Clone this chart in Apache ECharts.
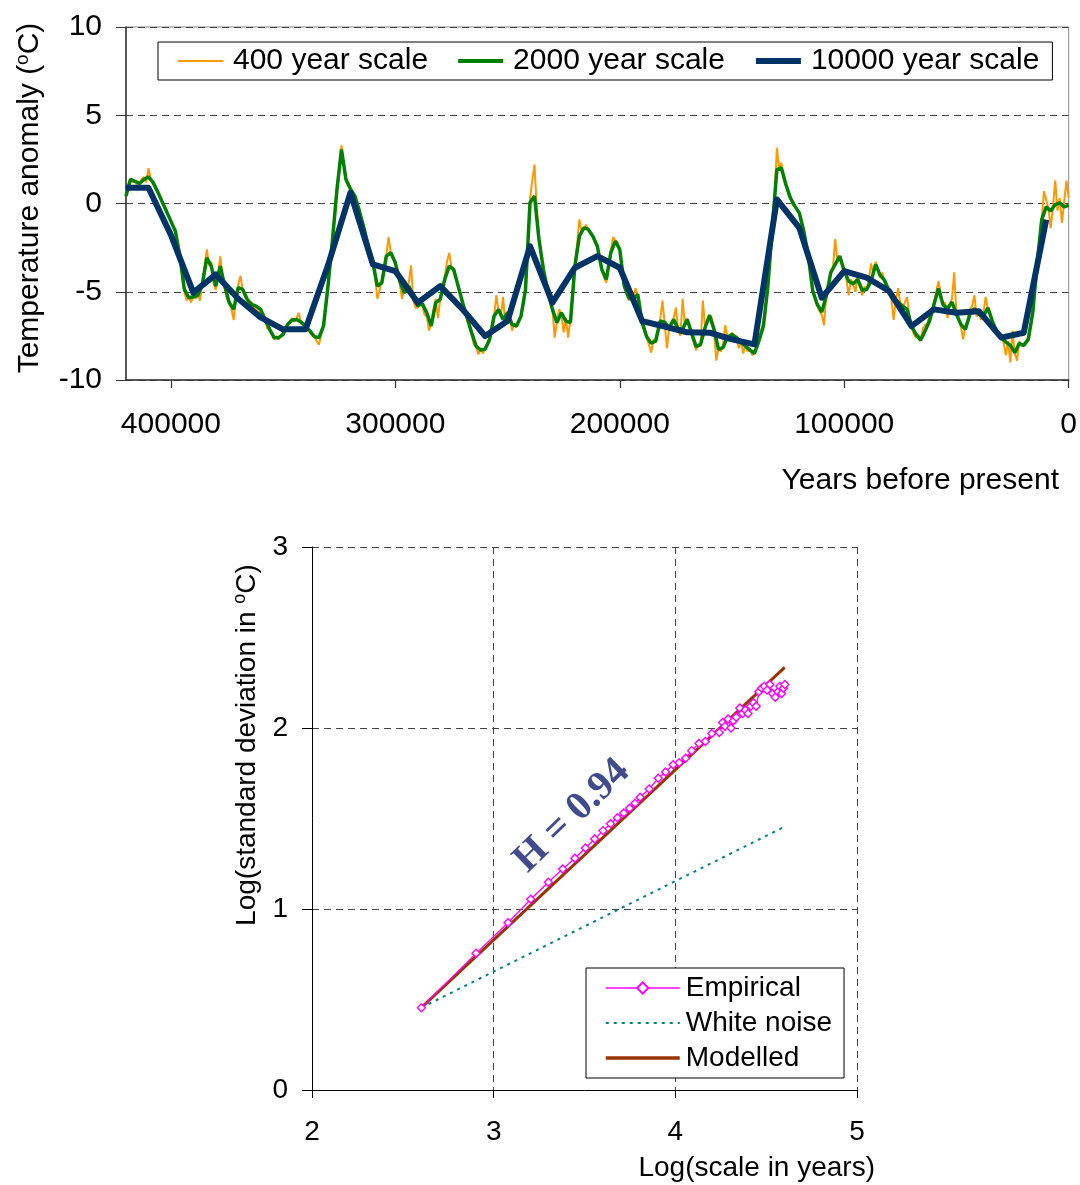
<!DOCTYPE html>
<html>
<head>
<meta charset="utf-8">
<script src="https://cdn.jsdelivr.net/npm/echarts@6/dist/echarts.min.js"></script>
<style>
html, body { margin: 0; padding: 0; background: #fff; }
#chart { width: 1080px; height: 1185px; }
</style>
</head>
<body>
<div id="chart"></div>
<script>
// Temperature anomaly (°C), one value per 1000 years, from 420000 years BP to present
const anomaly400 = [
  0.5, 1.1, 1.4, 1.2, 1.3, 1.0, 1.1, 1.4, 1.5, 1.2, 2.0, 1.4, 1.1, 0.9, 0.6, 0.5, 0.1, -0.1, -0.5, -0.7,
  -1.0, -1.3, -1.6, -2.1, -3.0, -4.1, -5.0, -5.5, -5.3, -5.6, -5.2, -5.4, -5.1, -5.5, -4.5, -3.6, -2.6, -3.5, -3.3, -4.5,
  -4.9, -4.0, -3.0, -4.2, -4.8, -5.4, -5.6, -6.0, -6.6, -5.2, -4.6, -4.1, -4.9, -5.3, -5.5, -5.9, -5.6, -6.0, -5.8, -6.2,
  -6.1, -6.4, -6.6, -7.1, -7.1, -7.4, -7.7, -7.5, -7.7, -7.5, -7.3, -7.1, -6.8, -6.7, -6.5, -6.7, -6.5, -6.2, -6.8, -6.9,
  -7.0, -7.1, -7.3, -7.5, -7.5, -7.8, -8.0, -7.4, -6.9, -5.8, -4.5, -3.3, -2.0, -0.6, 0.9, 2.0, 3.3, 2.2, 1.3, 1.0,
  0.8, 0.5, 0.3, -0.1, -0.5, -0.9, -1.4, -1.9, -2.5, -2.9,
  -3.4, -4.2, -5.4, -4.9, -4.3, -3.5, -2.9, -1.9, -2.8, -3.0, -3.5, -3.9, -4.6, -5.4, -4.8, -5.0, -4.5, -3.5, -5.5, -5.9,
  -5.9, -5.5, -5.8, -6.3, -6.4, -7.2, -6.8, -6.0, -5.4, -6.5, -5.4, -4.9, -4.2, -3.3, -2.8, -3.6, -3.8, -4.2, -4.8, -5.2,
  -5.7, -6.1, -6.6, -7.0, -7.4, -8.0, -8.1, -8.55, -8.2, -8.5, -8.2, -7.9, -7.6, -7.0, -6.4, -5.2, -6.1, -6.4, -5.3, -6.8,
  -6.1, -6.4, -7.2, -6.8, -7.0, -6.6, -6.3, -5.6, -4.7, -2.5, 0.3, 1.3, 2.2, -0.2, -1.9, -3.0, -3.8, -4.6, -5.2, -5.6,
  -6.0, -7.6, -6.7, -6.0, -6.3, -7.3, -6.5, -7.6, -6.6, -5.3, -3.4, -2.3, -0.9, -1.6, -1.4, -1.2, -1.5, -1.7, -1.9, -2.2,
  -2.5, -3.0, -3.7, -4.2, -4.5, -3.6, -2.7, -1.9, -2.1, -2.2, -2.7, -3.6, -4.7, -5.0, -5.5, -5.1, -5.5, -4.8, -5.2, -6.2,
  -6.8, -7.3, -7.6, -8.0, -8.45, -7.7, -7.9, -7.2, -6.6, -5.5, -6.8, -8.2, -7.1, -6.7, -6.5, -5.9, -7.2, -7.5, -5.4, -6.9,
  -6.5, -6.8, -7.5, -7.9, -8.3, -8.0, -8.1, -5.5, -7.0, -6.6, -6.3, -6.5, -7.3, -8.9, -8.2, -8.4, -8.0, -6.9, -7.6, -7.7,
  -7.3, -7.8, -7.5, -8.2, -7.8, -8.5, -8.0, -8.4, -8.2, -8.6, -8.5, -8.1, -7.6, -7.2, -6.7, -5.8, -4.5, -3.0, -1.2, 0.6,
  3.15, 2.0, 2.3, 1.5, 1.0, 0.6, 0.4, -0.1, -0.1, -0.4,
  -0.6, -1.1, -1.5, -2.3, -3.0, -4.1, -5.0, -5.4, -5.8, -6.1, -6.3, -6.9, -5.2, -4.6, -3.9, -3.6, -2.0, -3.3, -3.0, -3.5,
  -3.7, -4.3, -5.2, -4.3, -4.6, -5.0, -4.1, -4.6, -5.2, -4.7, -4.9, -4.3, -3.4, -4.0, -3.3, -3.8, -4.2, -3.9, -4.5, -4.8,
  -5.0, -5.4, -6.6, -5.5, -4.8, -5.7, -6.0, -5.6, -5.3, -6.3, -7.0, -7.4, -7.6, -7.4, -7.8, -7.1, -6.9, -6.8, -6.4, -6.1,
  -5.6, -5.0, -4.4, -5.1, -5.8, -5.6, -6.5, -5.7, -5.4, -3.9, -6.2, -6.4, -7.0, -7.7, -6.9, -6.6, -6.0, -5.8, -5.2, -6.4,
  -6.2, -6.6, -6.2, -5.3, -6.0, -6.3, -6.8, -7.0, -7.3, -7.6, -7.4, -7.9, -8.6, -7.8, -9.0, -7.2, -8.5, -8.9, -7.8, -8.1,
  -8.0, -7.9, -7.6, -7.0, -6.0, -4.8, -3.3, -2.2, -0.9, 0.7, 0.2, -0.3, -1.4, -0.2, 1.3, -0.4, 0.3, -1.1, 0.1, 1.3,
  0.3
];

// 2000-year averages, one value per 2000 years, 420000 years BP to present
const anomaly2000 = [
  0.42, 1.36, 1.26, 1.13, 1.36, 1.51, 1.21, 0.7, 0.13, -0.43,
  -1.0, -1.57, -2.98, -4.87, -5.34, -5.28, -5.21, -4.58, -3.08, -3.55,
  -4.68, -3.55, -4.68, -5.62, -6.0, -4.77, -4.87, -5.43, -5.72, -5.81,
  -6.0, -6.57, -7.13, -7.6, -7.6, -7.42, -6.85, -6.6, -6.57, -6.72,
  -6.94, -7.23, -7.55, -7.6, -6.94, -4.68, -2.04, 0.79, 3.06, 1.36,
  0.83, 0.42, -0.43, -1.38, -2.42,
  -3.36, -4.68, -4.49, -2.98, -2.79,
  -3.36, -4.4, -5.06, -4.68, -5.25, -5.81, -5.66, -6.19, -6.94, -5.62,
  -5.43, -4.3, -3.55, -3.74, -4.68, -5.62, -6.47, -7.32, -8.08, -8.3,
  -8.26, -7.7, -6.38, -6.0, -6.57, -6.19, -6.85, -6.94, -6.38, -4.87,
  0.04, 0.42, -2.04, -3.74, -5.06, -6.0, -6.75, -6.19, -6.66, -6.75,
  -3.55, -1.85, -1.38, -1.47, -1.85, -2.42, -3.74, -4.3,
  -2.79, -2.13,
  -2.6, -4.68, -5.34, -5.43, -5.15, -6.75, -7.55, -7.92, -7.79, -6.66,
  -6.72, -7.04, -6.57, -7.09, -7.13, -6.57, -7.32, -8.11, -7.98, -7.04,
  -6.34, -7.13, -8.26, -8.17, -7.55, -7.42, -7.6, -7.85, -8.08, -8.3,
  -8.49, -7.79, -6.94, -4.68, -1.28, 1.92, 2.02, 1.08, 0.32, -0.15,
  -0.53, -1.57, -2.98, -4.96, -5.72, -6.15, -5.25, -3.92, -3.45, -2.98,
  -3.83, -4.4, -4.55, -4.3, -4.91, -4.87, -4.4, -3.45, -4.06, -4.36,
  -4.96, -5.38, -5.58, -5.81, -6.0, -6.94, -7.42, -7.74, -7.23, -6.66,
  -5.72, -4.81, -5.72, -5.96, -5.58, -6.28, -6.85, -7.13, -6.28, -5.96,
  -6.28, -6.38, -5.91, -6.66, -7.28, -7.55, -7.85, -8.04, -8.45, -7.92,
  -8.04, -7.7, -6.19, -3.36, -0.91, -0.19, -0.43, -0.06, 0.04, -0.19,
  -0.11
];

// 10000-year averages, one value per 10000 years, 420000 to 10000 years BP
const anomaly10000 = [
  0.89, 0.89, -1.78, -5.05, -4.02, -5.4, -6.45, -7.13, -7.13, -3.5,
  0.61, -3.45, -3.83, -5.62, -4.68, -6.0, -7.51, -6.66, -2.42, -5.62,
  -3.64, -2.98, -3.64, -6.66, -6.97, -7.3, -7.32, -7.7, -7.98, 0.23,
  -1.38, -5.34, -3.83, -4.2, -4.96, -6.95, -6.0, -6.19, -6.1, -7.6,
  -7.32, -0.91
];

const FIRST_YEAR = 420000;
const yearTicks = [0, 100000, 200000, 300000, 400000];

// Climacogram: log10 of averaging scale (years) against log10 of standard deviation
const empiricalLogScale = [
  2.602, 2.903, 3.079, 3.204, 3.301, 3.380, 3.447, 3.505, 3.556, 3.602,
  3.643, 3.681, 3.716, 3.748, 3.778, 3.806, 3.856, 3.906, 3.946, 3.988,
  4.021, 4.057, 4.090, 4.130, 4.165, 4.200, 4.242, 4.260, 4.273, 4.290,
  4.306, 4.320, 4.335, 4.355, 4.370, 4.385, 4.400, 4.415, 4.430, 4.445,
  4.460, 4.475, 4.490, 4.505, 4.520, 4.535, 4.550, 4.565, 4.575, 4.585,
  4.595, 4.603
];
const empiricalLogSd = [
  0.455, 0.755, 0.924, 1.054, 1.148, 1.221, 1.280, 1.337, 1.387, 1.433,
  1.471, 1.504, 1.530, 1.556, 1.584, 1.617, 1.663, 1.722, 1.757, 1.797,
  1.808, 1.833, 1.875, 1.915, 1.925, 1.970, 1.975, 2.030, 2.010, 2.050,
  2.000, 2.040, 2.060, 2.110, 2.080, 2.100, 2.080, 2.120, 2.140, 2.120,
  2.200, 2.220, 2.230, 2.210, 2.240, 2.190, 2.170, 2.200, 2.230, 2.190,
  2.220, 2.240
];
const whiteNoiseLogScale = [2.602, 4.602];
const whiteNoiseLogSd = [0.455, 1.455];
const modelledLogScale = [2.602, 4.602];
const modelledLogSd = [0.455, 2.335];
const hurst = 0.94;

const FONT = '"Liberation Sans", Arial, Helvetica, sans-serif';

function byYear(values, step) {
  return values.map((v, i) => [FIRST_YEAR - i * step, v]);
}
function zipXY(xs, ys) {
  return xs.map((x, i) => [x, ys[i]]);
}

const chart = echarts.init(document.getElementById('chart'), null, { renderer: 'canvas' });

const dashed = { type: [7, 5], color: '#444', width: 1 };
// legend entries that show only the line sample, no marker
const lineOnly = { opacity: 0 };

chart.setOption({
  animation: false,
  backgroundColor: '#ffffff',
  grid: [
    { left: 126, top: 27, width: 943, height: 353, show: true, borderColor: '#8c8c8c', borderWidth: 1, backgroundColor: 'transparent' },
    { left: 312, top: 547, width: 545, height: 543 }
  ],
  xAxis: [
    {
      gridIndex: 0, type: 'value', min: 0, max: FIRST_YEAR, inverse: true, interval: 100000,
      axisLine: { onZero: false, lineStyle: { color: '#333', width: 1.5 } },
      axisTick: { customValues: yearTicks, length: 8, lineStyle: { color: '#333', width: 1.2 } },
      axisLabel: { customValues: yearTicks, formatter: v => String(v), fontSize: 30, fontFamily: FONT, color: '#000', margin: 30 },
      splitLine: { show: false }
    },
    {
      gridIndex: 1, type: 'value', min: 2, max: 5, interval: 1,
      axisLine: { onZero: false, lineStyle: { color: '#000', width: 1 } },
      axisTick: { length: 8, lineStyle: { color: '#000' } },
      axisLabel: { fontSize: 28, fontFamily: FONT, color: '#000', margin: 28 },
      splitLine: { show: true, lineStyle: dashed }
    }
  ],
  yAxis: [
    {
      gridIndex: 0, type: 'value', min: -10, max: 10, interval: 5,
      axisLine: { show: true, onZero: false, lineStyle: { color: '#333', width: 1.5 } },
      axisTick: { show: true, length: 10, lineStyle: { color: '#333' } },
      axisLabel: { fontSize: 30, fontFamily: FONT, color: '#000', margin: 24 },
      splitLine: { show: true, lineStyle: dashed }
    },
    {
      gridIndex: 1, type: 'value', min: 0, max: 3, interval: 1,
      axisLine: { show: true, onZero: false, lineStyle: { color: '#000', width: 1 } },
      axisTick: { show: true, length: 10, lineStyle: { color: '#000' } },
      axisLabel: { fontSize: 28, fontFamily: FONT, color: '#000', margin: 24 },
      splitLine: { show: true, lineStyle: dashed }
    }
  ],
  legend: [
    {
      data: [
        { name: '400 year scale', itemStyle: lineOnly, lineStyle: { width: 2 } },
        { name: '2000 year scale', itemStyle: lineOnly, lineStyle: { width: 4 } },
        { name: '10000 year scale', itemStyle: lineOnly, lineStyle: { width: 6 } }
      ],
      left: 158, top: 42, orient: 'horizontal',
      itemWidth: 45, itemHeight: 14, itemGap: 28,
      padding: [4, 13, 4, 19],
      borderColor: '#000', borderWidth: 1, backgroundColor: '#fff',
      textStyle: { fontSize: 30, fontFamily: FONT, color: '#000', lineHeight: 30, padding: [0, 0, 0, 5] }
    },
    {
      data: [
        { name: 'Empirical', lineStyle: { width: 1.5 } },
        { name: 'White noise', itemStyle: lineOnly, lineStyle: { width: 2 } },
        { name: 'Modelled', itemStyle: lineOnly, lineStyle: { width: 3.5 } }
      ],
      left: 586, top: 968, orient: 'vertical',
      itemWidth: 74, itemHeight: 14, itemGap: 5,
      padding: [5, 12, 5, 18],
      borderColor: '#000', borderWidth: 1, backgroundColor: '#fff',
      textStyle: { fontSize: 28, fontFamily: FONT, color: '#000', lineHeight: 30, padding: [0, 0, 0, 1] }
    }
  ],
  series: [
    {
      name: '400 year scale', type: 'line', xAxisIndex: 0, yAxisIndex: 0,
      data: byYear(anomaly400, 1000), symbol: 'none', showSymbol: false,
      lineStyle: { color: '#FF9900', width: 2 }, itemStyle: { color: '#FF9900' }
    },
    {
      name: '2000 year scale', type: 'line', xAxisIndex: 0, yAxisIndex: 0,
      data: byYear(anomaly2000, 2000), symbol: 'none', showSymbol: false,
      lineStyle: { color: '#008000', width: 3.5 }, itemStyle: { color: '#008000' }
    },
    {
      name: '10000 year scale', type: 'line', xAxisIndex: 0, yAxisIndex: 0,
      data: byYear(anomaly10000, 10000), symbol: 'none', showSymbol: false,
      lineStyle: { color: '#003366', width: 6, join: 'round' }, itemStyle: { color: '#003366' }
    },
    {
      name: 'White noise', type: 'line', xAxisIndex: 1, yAxisIndex: 1,
      data: zipXY(whiteNoiseLogScale, whiteNoiseLogSd), symbol: 'none', showSymbol: false,
      lineStyle: { color: '#008080', width: 2, type: [3, 5] }, itemStyle: { color: '#008080' }
    },
    {
      name: 'Modelled', type: 'line', xAxisIndex: 1, yAxisIndex: 1,
      data: zipXY(modelledLogScale, modelledLogSd), symbol: 'none', showSymbol: false,
      lineStyle: { color: '#993300', width: 3 }, itemStyle: { color: '#993300' }
    },
    {
      name: 'Empirical', type: 'line', xAxisIndex: 1, yAxisIndex: 1,
      data: zipXY(empiricalLogScale, empiricalLogSd),
      symbol: 'diamond', symbolSize: 8, showSymbol: true,
      lineStyle: { color: '#FF00FF', width: 1.3 },
      itemStyle: { color: '#ffffff', borderColor: '#FF00FF', borderWidth: 1.4 }
    }
  ],
  graphic: [
    {
      type: 'text', x: 30, y: 198, rotation: Math.PI / 2,
      style: {
        text: '{a|Temperature anomaly (}{s|o}{a|C)}',
        align: 'center', verticalAlign: 'middle', fill: '#000',
        rich: {
          a: { fontSize: 30, fontFamily: FONT, fill: '#000', lineHeight: 34 },
          s: { fontSize: 19, fontFamily: FONT, fill: '#000', lineHeight: 34, verticalAlign: 'top', padding: [0, 0, 12, 0] }
        }
      }
    },
    {
      type: 'text', x: 1059, y: 481,
      style: { text: 'Years before present', fontSize: 30, fontFamily: FONT, fill: '#000', align: 'right', verticalAlign: 'middle' }
    },
    {
      type: 'text', x: 247, y: 745, rotation: Math.PI / 2,
      style: {
        text: '{a|Log(standard deviation in }{s|o}{a|C)}',
        align: 'center', verticalAlign: 'middle', fill: '#000',
        rich: {
          a: { fontSize: 28, fontFamily: FONT, fill: '#000', lineHeight: 32 },
          s: { fontSize: 18, fontFamily: FONT, fill: '#000', lineHeight: 32, verticalAlign: 'top', padding: [0, 0, 12, 0] }
        }
      }
    },
    {
      type: 'text', x: 875, y: 1168,
      style: { text: 'Log(scale in years)', fontSize: 28, fontFamily: FONT, fill: '#000', align: 'right', verticalAlign: 'middle' }
    },
    {
      type: 'text', x: 572, y: 816, rotation: 44 * Math.PI / 180,
      style: {
        text: 'H = ' + hurst.toFixed(2),
        fontSize: 40, fontWeight: 'bold', fontFamily: '"Liberation Serif", "Times New Roman", serif',
        fill: '#3F4B8C', align: 'center', verticalAlign: 'middle'
      }
    }
  ]
});
</script>
</body>
</html>
